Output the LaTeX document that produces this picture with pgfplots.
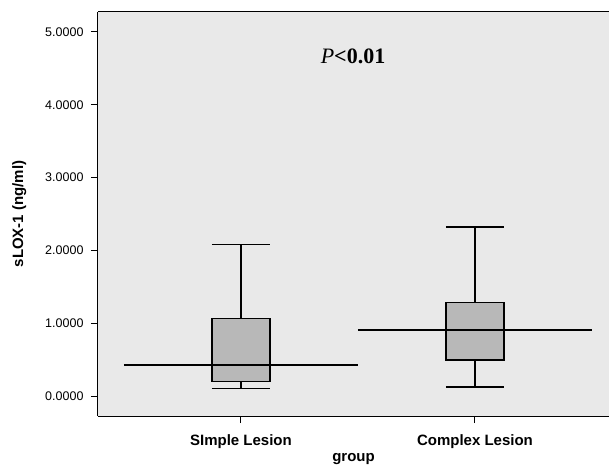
\documentclass[border=0pt]{standalone}
\usepackage{pgfplots}
\pgfplotsset{compat=1.18}
\usepackage{fontspec}
\setmainfont{Liberation Sans}
\newfontfamily\serif{Liberation Serif}
\usepgfplotslibrary{statistics}
\definecolor{bg}{HTML}{E9E9E9}
\definecolor{boxfill}{HTML}{B8B8B8}
\begin{document}
\begin{tikzpicture}
\useasboundingbox (-98pt,-50pt) rectangle (511pt,416pt);
\begin{axis}[
  at={(0pt,0pt)}, anchor=south west,
  scale only axis, width=511pt, height=404pt,
  xmin=-0.611, xmax=1.573, ymin=-0.274, ymax=5.274,
  axis x line*=box, axis y line*=left,
  axis line style={black, line width=1pt},
  axis background/.style={fill=bg},
  xtick={0,1}, xticklabels={SImple Lesion, Complex Lesion},
  ytick={0,1,2,3,4,5},
  xtick pos=bottom, ytick pos=left,
  tick align=outside, major tick length=7pt,
  tick style={black, line width=1pt},
  /pgf/number format/assume math mode=true,
  /pgf/number format/fixed, /pgf/number format/fixed zerofill, /pgf/number format/precision=4,
  yticklabel style={font=\fontsize{12.5}{14}\selectfont, xshift=-4pt},
  xticklabel style={font=\fontsize{15}{17}\selectfont\bfseries, yshift=-8pt},
  xlabel={group}, ylabel={sLOX-1 (ng/ml)},
  label style={font=\fontsize{15}{17}\selectfont\bfseries},
  xlabel style={yshift=0pt, inner sep=1pt},
  ylabel style={yshift=12pt},
  boxplot/draw direction=y,
  clip=false,
]
\addplot[boxplot prepared={draw position=0, lower whisker=0.10, lower quartile=0.201, median=0.425, upper quartile=1.064, upper whisker=2.082, box extend=0.248, whisker extend=0.248}, draw=black, fill=boxfill, line width=1.3pt] coordinates {};
\addplot[boxplot prepared={draw position=1, lower whisker=0.123, lower quartile=0.497, median=0.913, upper quartile=1.283, upper whisker=2.32, box extend=0.248, whisker extend=0.248}, draw=black, fill=boxfill, line width=1.3pt] coordinates {};
\addplot[black, line width=2pt] coordinates {(-0.5,0.425) (0.5,0.425)};
\addplot[black, line width=2pt] coordinates {(0.5,0.913) (1.5,0.913)};
\node at (axis cs:0.479,4.67) {\fontsize{22}{25}\selectfont\serif\textit{P}\textbf{<0.01}};
\end{axis}
\end{tikzpicture}
\end{document}
